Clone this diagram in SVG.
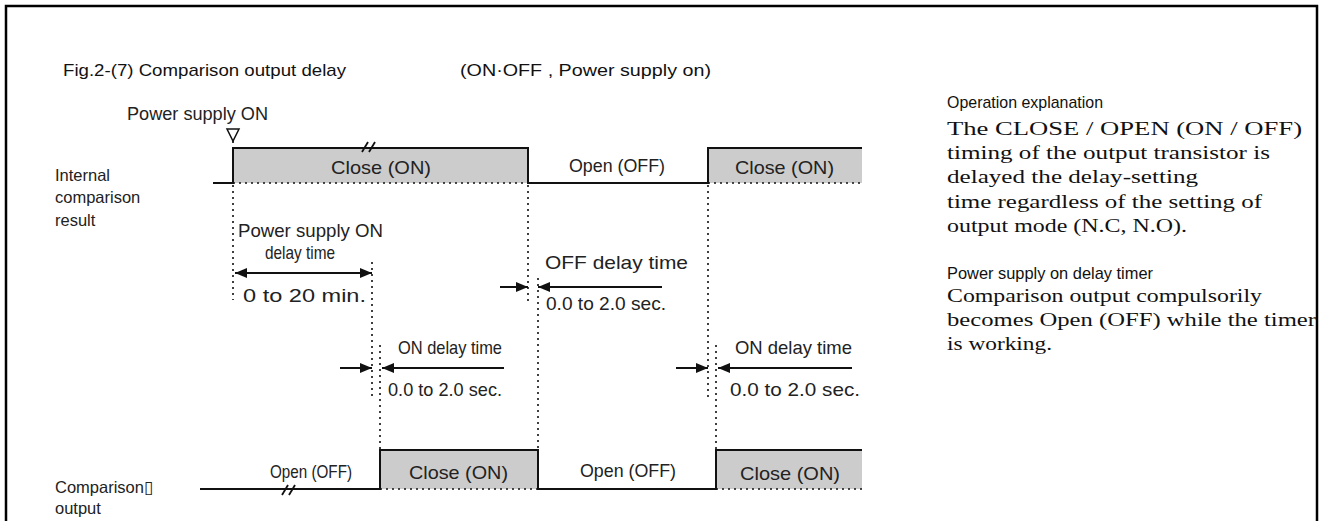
<svg xmlns="http://www.w3.org/2000/svg" width="1319" height="521" viewBox="0 0 1319 521">
<style>
.lbl{font-family:"Liberation Sans",Arial,sans-serif;font-size:19px;fill:#222}
.side{font-family:"Liberation Sans",Arial,sans-serif;font-size:16.5px;fill:#222}
.ttl{font-family:"Liberation Sans",Arial,sans-serif;font-size:17px;fill:#111}
.hd{font-family:"Liberation Sans",Arial,sans-serif;font-size:17px;fill:#111}
.body{font-family:"Liberation Serif","Times New Roman",serif;font-size:18.5px;fill:#111}
.wave{fill:none;stroke:#111;stroke-width:2}
.fillbox{fill:#cccccc;stroke:none}
.dot{stroke:#111;stroke-width:1.6;stroke-dasharray:2,4;fill:none}
.arr{stroke:#111;stroke-width:2;fill:none}
</style>
<defs>
<marker id="ah" viewBox="0 0 12 10" refX="12" refY="5" markerWidth="13" markerHeight="10" markerUnits="userSpaceOnUse" orient="auto-start-reverse">
<path d="M0,0 L12,5 L0,10 z" fill="#111"/>
</marker>
</defs>
<rect x="6" y="6" width="1311" height="530" fill="#fff" stroke="#000" stroke-width="2.5"/>

<g id="title">
<text class="ttl" x="63" y="76" textLength="283" lengthAdjust="spacingAndGlyphs">Fig.2-(7)  Comparison output delay</text>
<text class="ttl" x="460" y="76" textLength="251" lengthAdjust="spacingAndGlyphs">(ON·OFF , Power supply on)</text>
</g>

<g id="power-on-marker">
<text class="lbl" x="127" y="120" textLength="141" lengthAdjust="spacingAndGlyphs">Power supply ON</text>
<polygon points="227,129 239,129 233,141" fill="#fff" stroke="#111" stroke-width="1.5"/>
</g>

<g id="row-labels">
<text class="side" x="55" y="181">Internal</text>
<text class="side" x="55" y="203">comparison</text>
<text class="side" x="55" y="226">result</text>
<text class="side" x="55" y="493">Comparison▯</text>
<text class="side" x="55" y="514">output</text>
</g>

<g id="internal-wave">
<rect class="fillbox" x="233" y="148" width="295" height="35"/>
<rect class="fillbox" x="708" y="148" width="154" height="35"/>
<path class="wave" d="M213,183 H233 V148 H528 V183 H708 V148 H862"/>
<line class="dot" x1="233" y1="183" x2="528" y2="183"/>
<line class="dot" x1="708" y1="183" x2="862" y2="183"/>
<line x1="362" y1="152" x2="368" y2="142" stroke="#111" stroke-width="1.8"/>
<line x1="369" y1="152" x2="375" y2="142" stroke="#111" stroke-width="1.8"/>
<text class="lbl" x="331" y="174" textLength="100" lengthAdjust="spacingAndGlyphs">Close (ON)</text>
<text class="lbl" x="569" y="172" textLength="96" lengthAdjust="spacingAndGlyphs">Open (OFF)</text>
<text class="lbl" x="735" y="174" textLength="99" lengthAdjust="spacingAndGlyphs">Close (ON)</text>
</g>

<g id="output-wave">
<rect class="fillbox" x="380" y="450" width="158" height="39"/>
<rect class="fillbox" x="716" y="450" width="146" height="39"/>
<path class="wave" d="M200,489 H380 V450 H538 V489 H716 V450 H862"/>
<line class="dot" x1="380" y1="489" x2="538" y2="489"/>
<line class="dot" x1="716" y1="489" x2="862" y2="489"/>
<line x1="282" y1="495" x2="288" y2="485" stroke="#111" stroke-width="1.8"/>
<line x1="289" y1="495" x2="295" y2="485" stroke="#111" stroke-width="1.8"/>
<text class="lbl" x="270" y="478" textLength="82" lengthAdjust="spacingAndGlyphs">Open (OFF)</text>
<text class="lbl" x="409" y="479" textLength="99" lengthAdjust="spacingAndGlyphs">Close (ON)</text>
<text class="lbl" x="580" y="477" textLength="96" lengthAdjust="spacingAndGlyphs">Open (OFF)</text>
<text class="lbl" x="740" y="480" textLength="100" lengthAdjust="spacingAndGlyphs">Close (ON)</text>
</g>

<g id="guides">
<line class="dot" x1="233" y1="141" x2="233" y2="148"/>
<line class="dot" x1="233" y1="185" x2="233" y2="300"/>
<line class="dot" x1="372" y1="262" x2="372" y2="398"/>
<line class="dot" x1="380" y1="345" x2="380" y2="450"/>
<line class="dot" x1="528" y1="185" x2="528" y2="305"/>
<line class="dot" x1="538" y1="278" x2="538" y2="450"/>
<line class="dot" x1="708" y1="185" x2="708" y2="398"/>
<line class="dot" x1="716" y1="345" x2="716" y2="450"/>
</g>

<g id="connectors">
<line class="arr" x1="235" y1="273" x2="372" y2="273" marker-start="url(#ah)" marker-end="url(#ah)"/>
<line class="arr" x1="500" y1="287" x2="528" y2="287" marker-end="url(#ah)"/>
<line class="arr" x1="662" y1="287" x2="538" y2="287" marker-end="url(#ah)"/>
<line class="arr" x1="340" y1="368" x2="372" y2="368" marker-end="url(#ah)"/>
<line class="arr" x1="504" y1="368" x2="382" y2="368" marker-end="url(#ah)"/>
<line class="arr" x1="676" y1="368" x2="708" y2="368" marker-end="url(#ah)"/>
<line class="arr" x1="852" y1="368" x2="718" y2="368" marker-end="url(#ah)"/>
</g>

<g id="power-on-delay">
<text class="lbl" x="238" y="237" textLength="145" lengthAdjust="spacingAndGlyphs">Power supply ON</text>
<text class="lbl" x="265" y="259" textLength="70" lengthAdjust="spacingAndGlyphs">delay time</text>
<text class="lbl" x="243" y="302" textLength="123" lengthAdjust="spacingAndGlyphs">0 to 20 min.</text>
</g>

<g id="off-delay">
<text class="lbl" x="545" y="269" textLength="143" lengthAdjust="spacingAndGlyphs">OFF delay time</text>
<text class="lbl" x="546" y="310" textLength="120" lengthAdjust="spacingAndGlyphs">0.0 to 2.0 sec.</text>
</g>

<g id="on-delay-1">
<text class="lbl" x="398" y="354" textLength="104" lengthAdjust="spacingAndGlyphs">ON delay time</text>
<text class="lbl" x="388" y="396" textLength="114" lengthAdjust="spacingAndGlyphs">0.0 to 2.0 sec.</text>
</g>

<g id="on-delay-2">
<text class="lbl" x="735" y="354" textLength="117" lengthAdjust="spacingAndGlyphs">ON delay time</text>
<text class="lbl" x="730" y="396" textLength="130" lengthAdjust="spacingAndGlyphs">0.0 to 2.0 sec.</text>
</g>

<g id="explanation">
<text class="hd" x="947" y="108" textLength="156" lengthAdjust="spacingAndGlyphs">Operation explanation</text>
<text class="body" x="947" y="135" textLength="355" lengthAdjust="spacingAndGlyphs">The CLOSE / OPEN (ON / OFF)</text>
<text class="body" x="947" y="159" textLength="323" lengthAdjust="spacingAndGlyphs">timing of the output transistor is</text>
<text class="body" x="947" y="183" textLength="251" lengthAdjust="spacingAndGlyphs">delayed the delay-setting</text>
<text class="body" x="947" y="208" textLength="315" lengthAdjust="spacingAndGlyphs">time regardless of the setting of</text>
<text class="body" x="947" y="232" textLength="240" lengthAdjust="spacingAndGlyphs">output mode (N.C, N.O).</text>
<text class="hd" x="947" y="279" textLength="206" lengthAdjust="spacingAndGlyphs">Power supply on delay timer</text>
<text class="body" x="947" y="302" textLength="315" lengthAdjust="spacingAndGlyphs">Comparison output compulsorily</text>
<text class="body" x="947" y="326" textLength="369" lengthAdjust="spacingAndGlyphs">becomes Open (OFF) while the timer</text>
<text class="body" x="947" y="350" textLength="105" lengthAdjust="spacingAndGlyphs">is working.</text>
</g>
</svg>
